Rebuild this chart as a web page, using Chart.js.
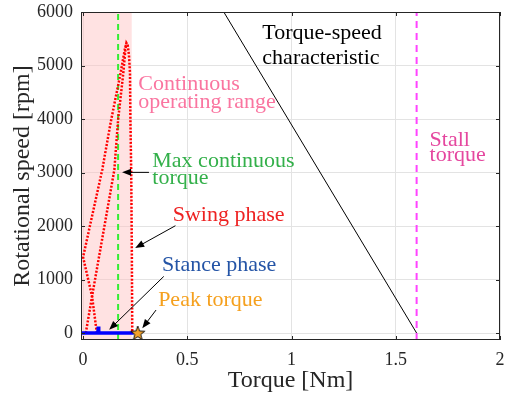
<!DOCTYPE html>
<html>
<head>
<meta charset="utf-8">
<script src="https://cdn.jsdelivr.net/npm/chart.js@4.4.1/dist/chart.umd.min.js"></script>
<style>
  html, body { margin: 0; padding: 0; background: #fff; }
</style>
</head>
<body>
<canvas id="speedChart" width="510" height="396"></canvas>
<script>
// axis ticks
const xTicks = [0, 0.5, 1, 1.5, 2];
const xTickLabels = ['0', '0.5', '1', '1.5', '2'];
const yTicks = [0, 1000, 2000, 3000, 4000, 5000, 6000];
const xMin = -0.01, xMax = 2, yMin = -130, yMax = 6000;

// swing phase (two passes up to the peak speed)
const swingTorqueA = [0.013, 0.043, 0.098, 0.150, 0.168, 0.193, 0.203, 0.208, 0.214, 0.220, 0.225, 0.227, 0.231, 0.234, 0.236];
const swingSpeedA  = [0, 684, 1899, 3052, 3987, 4860, 5300, 5420, 5380, 5200, 4860, 3990, 3000, 1500, 0];
const swingTorqueB = [0.066, 0.043, 0.000, 0.027, 0.092, 0.133, 0.180, 0.200, 0.208];
const swingSpeedB  = [0, 684, 1420, 1899, 3052, 3950, 4860, 5300, 5420];

// stance phase
const stanceTorque = [-0.005, 0.071, 0.073, 0.075, 0.243];
const stanceSpeed  = [0, 0, 120, 0, 0];

// peak torque marker
const peakTorque = [0.262];
const peakSpeed  = [0];

// motor torque-speed characteristic
const charTorque = [0.675, 1.6];
const charSpeed  = [6000, 0];

const contTorque  = 0.168;  // max continuous torque
const stallTorque = 1.6;
const rangeTorque = 0.234;  // continuous operating range limit

const pts = (xs, ys) => xs.map((v, i) => ({ x: v, y: ys[i] }));

// filled star for the peak marker
function makeStar() {
    const c = document.createElement('canvas');
    c.width = 18; c.height = 18;
    const g = c.getContext('2d');
    g.beginPath();
    for (let i = 0; i < 10; i++) {
        const r = i % 2 === 0 ? 7.5 : 3.1;
        const a = -Math.PI / 2 + i * Math.PI / 5;
        g.lineTo(9 + r * Math.cos(a), 9.5 + r * Math.sin(a));
    }
    g.closePath();
    g.fillStyle = '#f2a22c';
    g.fill();
    g.strokeStyle = '#000';
    g.lineWidth = 0.9;
    g.stroke();
    return c;
}

const notes = [
    { t: 'Torque-speed', x: 0.86, y: 5495, c: '#000000' },
    { t: 'characteristic', x: 0.86, y: 5034, c: '#000000' },
    { t: 'Continuous', x: 0.265, y: 4548, c: '#fa75a0' },
    { t: 'operating range', x: 0.265, y: 4206, c: '#fa75a0' },
    { t: 'Max continuous', x: 0.332, y: 3103, c: '#33b04a' },
    { t: 'torque', x: 0.332, y: 2785, c: '#33b04a' },
    { t: 'Swing phase', x: 0.43, y: 2086, c: '#ee2222' },
    { t: 'Stance phase', x: 0.379, y: 1151, c: '#2454a6' },
    { t: 'Peak torque', x: 0.36, y: 497, c: '#f5a01e' },
    { t: 'Stall', x: 1.662, y: 3488, c: '#e5479f' },
    { t: 'torque', x: 1.662, y: 3221, c: '#e5479f' }
];

const arrows = [
    { from: [0.316, 3003], to: [0.187, 3003] },
    { from: [0.443, 2006], to: [0.250, 1589] },
    { from: [0.387, 1058], to: [0.125, 62] },
    { from: [0.350, 430], to: [0.284, 90] }
];

const overlay = {
    id: 'overlay',
    afterDatasetsDraw(chart) {
        const { ctx, chartArea: a, scales: { x, y } } = chart;
        ctx.save();
        ctx.strokeStyle = '#262626';
        ctx.lineWidth = 1;
        ctx.strokeRect(a.left + 0.5, a.top + 0.5, a.width - 1, a.height - 1);
        // inward ticks, matlab style
        ctx.beginPath();
        xTicks.forEach(v => {
            const px = Math.round(x.getPixelForValue(v)) + 0.5;
            ctx.moveTo(px, a.bottom); ctx.lineTo(px, a.bottom - 4);
            ctx.moveTo(px, a.top); ctx.lineTo(px, a.top + 4);
        });
        yTicks.forEach(v => {
            const py = Math.round(y.getPixelForValue(v)) + 0.5;
            ctx.moveTo(a.left, py); ctx.lineTo(a.left + 4, py);
            ctx.moveTo(a.right, py); ctx.lineTo(a.right - 4, py);
        });
        ctx.stroke();

        ctx.strokeStyle = '#000';
        ctx.fillStyle = '#000';
        arrows.forEach(ar => {
            const x0 = x.getPixelForValue(ar.from[0]), y0 = y.getPixelForValue(ar.from[1]);
            const x1 = x.getPixelForValue(ar.to[0]), y1 = y.getPixelForValue(ar.to[1]);
            const ang = Math.atan2(y1 - y0, x1 - x0);
            ctx.beginPath();
            ctx.moveTo(x0, y0);
            ctx.lineTo(x1 - 6 * Math.cos(ang), y1 - 6 * Math.sin(ang));
            ctx.stroke();
            ctx.beginPath();
            ctx.moveTo(x1, y1);
            ctx.lineTo(x1 - 9 * Math.cos(ang) + 3.5 * Math.sin(ang), y1 - 9 * Math.sin(ang) - 3.5 * Math.cos(ang));
            ctx.lineTo(x1 - 9 * Math.cos(ang) - 3.5 * Math.sin(ang), y1 - 9 * Math.sin(ang) + 3.5 * Math.cos(ang));
            ctx.closePath();
            ctx.fill();
        });

        ctx.font = '22px "Liberation Serif", "Times New Roman", serif';
        ctx.textAlign = 'left';
        ctx.textBaseline = 'alphabetic';
        notes.forEach(n => {
            ctx.fillStyle = n.c;
            ctx.fillText(n.t, x.getPixelForValue(n.x), y.getPixelForValue(n.y));
        });
        ctx.restore();
    }
};

const tickFont = { family: '"Liberation Serif", "Times New Roman", serif', size: 18 };
const titleFont = { family: '"Liberation Serif", "Times New Roman", serif', size: 24 };

new Chart(document.getElementById('speedChart'), {
    type: 'line',
    data: {
        datasets: [
            {
                data: pts(peakTorque, peakSpeed),
                showLine: false,
                pointStyle: makeStar(),
                pointRadius: 9
            },
            {
                data: pts(stanceTorque, stanceSpeed),
                borderColor: '#0000ff',
                borderWidth: 3.5,
                pointRadius: 0
            },
            {
                data: pts(swingTorqueA, swingSpeedA),
                borderColor: '#ff0000',
                borderWidth: 2.5,
                borderDash: [2, 1.6],
                pointRadius: 0
            },
            {
                data: pts(swingTorqueB, swingSpeedB),
                borderColor: '#ff0000',
                borderWidth: 2.5,
                borderDash: [2, 1.6],
                pointRadius: 0
            },
            {
                data: pts([contTorque, contTorque], [yMin, yMax]),
                borderColor: '#33ee33',
                borderWidth: 2,
                borderDash: [6, 4],
                pointRadius: 0
            },
            {
                data: pts([stallTorque, stallTorque], [yMin, yMax]),
                borderColor: '#ff44ff',
                borderWidth: 2,
                borderDash: [7, 5],
                pointRadius: 0
            },
            {
                data: pts(charTorque, charSpeed),
                borderColor: '#000000',
                borderWidth: 1,
                pointRadius: 0
            },
            {
                data: pts([xMin, rangeTorque], [yMax, yMax]),
                borderWidth: 0,
                pointRadius: 0,
                fill: 'start',
                backgroundColor: 'rgba(255, 190, 190, 0.45)'
            }
        ]
    },
    options: {
        responsive: false,
        animation: false,
        devicePixelRatio: 1,
        layout: { padding: { top: 12, right: 5, left: 0, bottom: 0 } },
        plugins: { legend: { display: false }, tooltip: { enabled: false } },
        scales: {
            x: {
                type: 'linear',
                min: xMin,
                max: xMax,
                afterBuildTicks: s => { s.ticks = xTicks.map(v => ({ value: v })); },
                afterFit: s => { s.height = 56; s.paddingLeft = 0; s.paddingRight = 0; },
                ticks: {
                    padding: 9,
                    color: '#262626',
                    font: tickFont,
                    maxRotation: 0,
                    callback: v => xTickLabels[xTicks.indexOf(v)]
                },
                grid: { color: '#e3e3e3', drawTicks: false },
                border: { display: false },
                title: {
                    display: true,
                    text: 'Torque [Nm]',
                    color: '#262626',
                    font: titleFont,
                    padding: { top: 0, bottom: 1 }
                }
            },
            y: {
                type: 'linear',
                min: yMin,
                max: yMax,
                afterBuildTicks: s => { s.ticks = yTicks.map(v => ({ value: v })); },
                afterFit: s => { s.width = 81; s.paddingTop = 0; s.paddingBottom = 0; },
                ticks: {
                    padding: 8,
                    color: '#262626',
                    font: tickFont,
                    callback: v => String(v)
                },
                grid: { color: '#e3e3e3', drawTicks: false },
                border: { display: false },
                title: {
                    display: true,
                    text: 'Rotational speed [rpm]',
                    color: '#262626',
                    font: titleFont,
                    padding: { top: 8, bottom: 0 }
                }
            }
        }
    },
    plugins: [overlay]
});
</script>
</body>
</html>
